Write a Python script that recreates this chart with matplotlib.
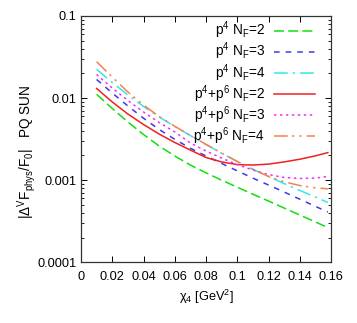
import numpy as np
import matplotlib
matplotlib.use("Agg")
from matplotlib import pyplot as plt

plt.rcParams['font.family'] = ['Liberation Sans', 'DejaVu Sans']
plt.rcParams['mathtext.default'] = 'regular'

# chi_4 values (GeV^2) and |Delta^V F_phys / F_0|
chi4 = [0.01, 0.02, 0.03, 0.04, 0.05, 0.06, 0.07, 0.08,
        0.09, 0.10, 0.11, 0.12, 0.13, 0.14, 0.15, 0.158]

p4_nf2 = [0.01112, 0.00747, 0.00512, 0.00360, 0.00261, 0.00197, 0.00153, 0.00123,
          0.00100, 0.000822, 0.000675, 0.000558, 0.000458, 0.000377, 0.000310, 0.000265]
p4_nf3 = [0.01686, 0.01153, 0.00802, 0.00569, 0.00415, 0.00315, 0.00245, 0.00197,
          0.00160, 0.00130, 0.00106, 0.000874, 0.000718, 0.000587, 0.000480, 0.000410]
p4_nf4 = [0.02244, 0.01549, 0.01091, 0.00790, 0.00589, 0.00451, 0.00350, 0.00272,
          0.00213, 0.00169, 0.00136, 0.00111, 0.000910, 0.000751, 0.000624, 0.000535]
p6_nf2 = [0.01309, 0.00897, 0.00640, 0.00477, 0.00365, 0.00288, 0.00233, 0.00189,
          0.00167, 0.00155, 0.00153, 0.00157, 0.00167, 0.00180, 0.00198, 0.00217]
p6_nf3 = [0.01939, 0.01327, 0.00935, 0.00677, 0.00505, 0.00387, 0.00284, 0.00227,
          0.00186, 0.00155, 0.00133, 0.00117, 0.00108, 0.00105, 0.00106, 0.00111]
p6_nf4 = [0.02775, 0.01807, 0.01186, 0.00824, 0.00597, 0.00454, 0.00351, 0.00273,
          0.00214, 0.00169, 0.00136, 0.00111, 0.000957, 0.000861, 0.000807, 0.000785]

labels = [r'$p^4$ $N_F$=2', r'$p^4$ $N_F$=3', r'$p^4$ $N_F$=4',
          r'$p^4$+$p^6$ $N_F$=2', r'$p^4$+$p^6$ $N_F$=3', r'$p^4$+$p^6$ $N_F$=4']

fig = plt.figure(figsize=(3.57, 3.23), dpi=100)
ax = fig.add_axes([81/357, 1-262.3/323, 250/357, 246.3/323])

ax.plot(chi4, p4_nf2, color='#10e010', lw=1.1, dashes=(6.5, 2.8), label=labels[0])
ax.plot(chi4, p4_nf3, color='#3a3aee', lw=1.1, dashes=(3.7, 3.9), label=labels[1])
ax.plot(chi4, p4_nf4, color='#30e8e8', lw=1.1, dashes=(9, 3.3, 1.5, 3.3), label=labels[2])
ax.plot(chi4, p6_nf2, color='#f02020', lw=1.1, label=labels[3])
ax.plot(chi4, p6_nf3, color='#f030f0', lw=1.1, dashes=(1.6, 2.3), label=labels[4])
ax.plot(chi4, p6_nf4, color='#f88050', lw=1.1,
        dashes=(9, 2.8, 1.5, 3.3, 1.5, 3.3), label=labels[5])

ax.set_yscale('log')
ax.set_xlim(0, 0.16)
ax.set_ylim(1e-4, 0.1)
ax.set_xticks(np.arange(0, 0.161, 0.02))
ax.set_xticklabels(['0', '0.02', '0.04', '0.06', '0.08', '0.1', '0.12', '0.14', '0.16'])
ax.set_yticks([1e-4, 1e-3, 1e-2, 1e-1])
ax.set_yticklabels(['0.0001', '0.001', '0.01', '0.1'])
ax.tick_params(which='both', direction='in', top=True, right=True, labelsize=9.2)
ax.tick_params(which='major', length=4, width=0.7)
ax.tick_params(which='minor', length=2.2, width=0.6)
ax.tick_params(axis='x', pad=6)
for s in ax.spines.values():
    s.set_linewidth(0.9)
    s.set_color('#333333')

ax.set_xlabel(r'$\chi_4$ [GeV$^2$]', fontsize=9.2)
ax.set_ylabel(r'|$\Delta^V F_{phys}/F_0$|   PQ SUN', fontsize=9.8)
ax.yaxis.set_label_coords(-0.17, 0.45)

ax.legend(loc='upper right', bbox_to_anchor=(0.936, 0.985), frameon=False,
          markerfirst=False, fontsize=9.8, handlelength=3.0, handletextpad=0.65,
          labelspacing=-0.03, borderpad=0, borderaxespad=0)

fig.savefig('out.png', dpi=100)
